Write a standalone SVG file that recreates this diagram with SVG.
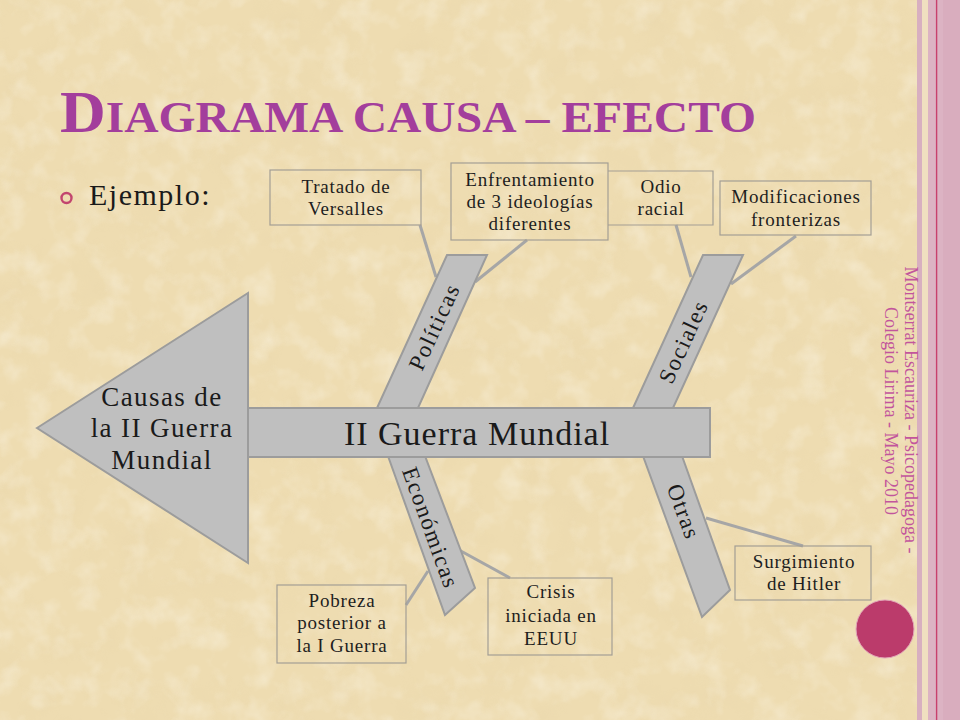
<svg xmlns="http://www.w3.org/2000/svg" width="960" height="720" viewBox="0 0 960 720">
<defs>
<filter id="paperDark" x="0" y="0" width="100%" height="100%">
<feTurbulence type="fractalNoise" baseFrequency="0.025" numOctaves="4" seed="7"/>
<feColorMatrix type="matrix" values="0 0 0 0 0.80  0 0 0 0 0.66  0 0 0 0 0.40  2.0 0 0 0 -0.95"/>
</filter>
<filter id="paperLight" x="0" y="0" width="100%" height="100%">
<feTurbulence type="fractalNoise" baseFrequency="0.04" numOctaves="3" seed="21"/>
<feColorMatrix type="matrix" values="0 0 0 0 0.98  0 0 0 0 0.95  0 0 0 0 0.86  0 2.0 0 0 -0.9"/>
</filter>
<style>
.title{font-family:"Liberation Serif","Times New Roman",serif;font-weight:bold;fill:#a33e9c}
.ej{font-family:"Liberation Serif",serif;font-size:30px;letter-spacing:1.5px;fill:#1a1a1a}
.box{fill:none;stroke:#a39e94;stroke-width:1.2}
.bt{font-family:"Liberation Serif",serif;font-size:19px;letter-spacing:0.8px;fill:#1e1e1e;text-anchor:middle}
.shape{fill:#bfbfbf;stroke:#9c9c9c;stroke-width:2;stroke-linejoin:miter}
.lbl{font-family:"Liberation Serif",serif;font-size:23px;fill:#1a1a1a;text-anchor:middle;letter-spacing:1.5px}
.big{font-family:"Liberation Serif",serif;font-size:34px;letter-spacing:1px;fill:#1a1a1a;text-anchor:middle}
.head{font-family:"Liberation Serif",serif;font-size:27px;letter-spacing:1.4px;fill:#1a1a1a;text-anchor:middle}
.conn{stroke:#a6a6a6;stroke-width:3;fill:none}
.foot{font-family:"Liberation Serif",serif;font-size:18px;fill:#c2559c;text-anchor:middle}
</style>
</defs>

<g id="background">
<rect x="0" y="0" width="960" height="720" fill="#eedcb1"/>
<rect x="0" y="0" width="917" height="720" filter="url(#paperDark)" opacity="0.35"/>
<rect x="0" y="0" width="917" height="720" filter="url(#paperLight)" opacity="0.4"/>
<rect x="917" y="0" width="5" height="720" fill="#d8afc0"/>
<rect x="922" y="0" width="6" height="720" fill="#f0dfc0"/>
<rect x="928" y="0" width="32" height="720" fill="#dcb3c3"/>
<rect x="943" y="0" width="17" height="720" fill="#d9adbe"/>
<line x1="936.6" y1="0" x2="936.6" y2="720" stroke="#c8406c" stroke-width="1.4"/>
</g>

<g id="title">
<text x="60" y="132" class="title" textLength="696" lengthAdjust="spacingAndGlyphs"><tspan font-size="60">D</tspan><tspan font-size="45">IAGRAMA CAUSA – EFECTO</tspan></text>
</g>

<g id="bullet">
<circle cx="66.5" cy="198" r="5" fill="none" stroke="#c2456e" stroke-width="2.4"/>
<text x="89" y="205" class="ej">Ejemplo:</text>
</g>

<g id="connectors">
<line class="conn" x1="420" y1="225" x2="436" y2="277"/>
<line class="conn" x1="527" y1="240" x2="475" y2="282"/>
<line class="conn" x1="676" y1="225" x2="691" y2="277"/>
<line class="conn" x1="796" y1="236" x2="731" y2="284"/>
<line class="conn" x1="428" y1="571" x2="406" y2="605"/>
<line class="conn" x1="459" y1="550" x2="510" y2="578"/>
<line class="conn" x1="706" y1="518" x2="803" y2="546"/>
</g>

<g id="branch-politicas">
<polygon class="shape" points="447,255 487,255 418,408 377,408"/>
<text class="lbl" transform="translate(435,327) rotate(-65.4)" x="0" y="7">Políticas</text>
</g>

<g id="branch-sociales">
<polygon class="shape" points="703,255 743,255 673,408 633,408"/>
<text class="lbl" transform="translate(684,342) rotate(-65.4)" x="0" y="7">Sociales</text>
</g>

<g id="branch-economicas">
<polygon class="shape" points="388,456 425,456 475,588 445,615"/>
<text class="lbl" transform="translate(430,528) rotate(70.2)" x="0" y="7">Económicas</text>
</g>

<g id="branch-otras">
<polygon class="shape" points="643,456 682,456 730,590 702,617"/>
<text class="lbl" transform="translate(683,512) rotate(69.8)" x="0" y="7">Otras</text>
</g>

<g id="spine">
<rect class="shape" x="248" y="408" width="462" height="49"/>
<text class="big" x="477" y="445">II Guerra Mundial</text>
</g>

<g id="head">
<polygon class="shape" points="37,428 248,293 248,563"/>
<text class="head" x="162" y="406">Causas de</text>
<text class="head" x="162" y="437">la II Guerra</text>
<text class="head" x="162" y="469">Mundial</text>
</g>

<g id="box-tratado">
<rect class="box" x="270" y="170" width="151" height="55"/>
<text class="bt" x="346" y="193">Tratado de</text>
<text class="bt" x="346" y="215">Versalles</text>
</g>

<g id="box-enfrentamiento">
<rect class="box" x="451" y="163" width="157" height="77"/>
<text class="bt" x="530" y="186">Enfrentamiento</text>
<text class="bt" x="530" y="208">de 3 ideologías</text>
<text class="bt" x="530" y="230">diferentes</text>
</g>

<g id="box-odio">
<polyline class="box" points="608,171 713,171 713,225 608,225"/>
<text class="bt" x="661" y="193">Odio</text>
<text class="bt" x="661" y="215">racial</text>
</g>

<g id="box-modificaciones">
<rect class="box" x="720" y="181" width="151" height="54"/>
<text class="bt" x="796" y="203">Modificaciones</text>
<text class="bt" x="796" y="226">fronterizas</text>
</g>

<g id="box-pobreza">
<rect class="box" x="277" y="585" width="129" height="78"/>
<text class="bt" x="342" y="607">Pobreza</text>
<text class="bt" x="342" y="629">posterior a</text>
<text class="bt" x="342" y="652">la I Guerra</text>
</g>

<g id="box-crisis">
<rect class="box" x="488" y="578" width="124" height="77"/>
<text class="bt" x="551" y="598">Crisis</text>
<text class="bt" x="551" y="622">iniciada en</text>
<text class="bt" x="551" y="645">EEUU</text>
</g>

<g id="box-surgimiento">
<rect class="box" x="735" y="546" width="136" height="54"/>
<text class="bt" x="804" y="568">Surgimiento</text>
<text class="bt" x="804" y="590">de Hitler</text>
</g>

<g id="footer">
<text class="foot" transform="translate(905,410) rotate(90)" x="0" y="0">Montserrat Escauriza - Psicopedagoga -</text>
<text class="foot" transform="translate(885,411) rotate(90)" x="0" y="0">Colegio Lirima - Mayo 2010</text>
</g>

<g id="dot">
<circle cx="885" cy="629" r="29" fill="#bb3b6b" stroke="#e2a6b8" stroke-width="1"/>
</g>
</svg>
